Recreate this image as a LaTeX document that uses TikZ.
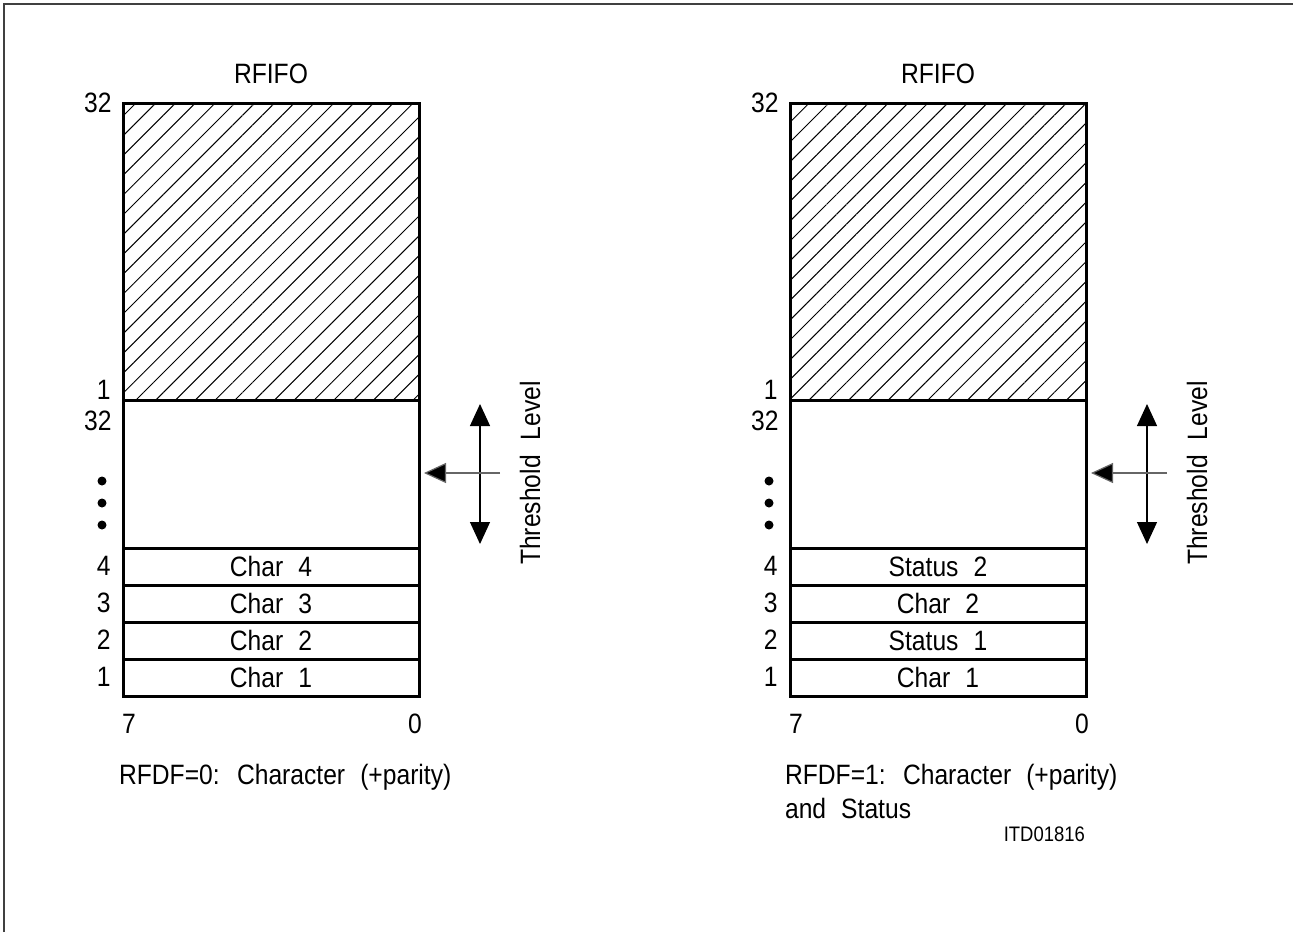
\documentclass[tikz,border=0pt]{standalone}
\usepackage{fontspec}
\setmainfont{Liberation Sans}[FakeStretch=0.88, WordSpace=2.2]
\usetikzlibrary{arrows.meta, patterns.meta, positioning}

\begin{document}
\begin{tikzpicture}[x=0.5pt, y=-0.5pt, font=\fontsize{14}{17}\selectfont]
\tikzset{
    frameline/.style={draw=black!75, line width=1.2pt},
    hatchbox/.style={draw, line width=1.5pt, minimum width=148pt, minimum height=148.5pt, inner sep=0pt, pattern={Lines[angle=45, distance=7pt, line width=0.5pt]}},
    emptybox/.style={draw, line width=1.5pt, minimum width=148pt, minimum height=74pt, inner sep=0pt},
    cell/.style={draw, line width=1.5pt, minimum width=148pt, minimum height=18.5pt, inner sep=0pt},
    idx/.style={anchor=east, inner sep=0pt},
    dot/.style={circle, fill, inner sep=0pt, minimum size=4.5pt},
    levelarrow/.style={line width=0.6pt, {Triangle[width=10pt, length=11pt]}-{Triangle[width=10pt, length=11pt]}},
    pointer/.style={draw=black!60, line width=0.6pt, -{Triangle[width=10pt, length=11pt, fill=black]}}
}
\useasboundingbox (0,0) rectangle (1293,932);
\draw[frameline] (4,932) -- (4,4) -- (1293,4);

% left fifo
\node (Ltitle) at (271,74) {RFIFO};
\node[hatchbox] (Lfull) at (271,251.5) {};
\node[emptybox] (Lfree) at (271,474) {};
\node[cell] (L4) at (271,566.5) {Char 4};
\node[cell] (L3) at (271,603.5) {Char 3};
\node[cell] (L2) at (271,640.5) {Char 2};
\node[cell] (L1) at (271,677.5) {Char 1};
\node[idx] (Ltop) at (112,103) {32}; \node[idx] (Lone) at (111,390) {1}; \node[idx] (Lmax) at (112,421) {32};
\node[dot] (Ld1) at (102,481) {}; \node[dot] (Ld2) at (102,503) {}; \node[dot] (Ld3) at (102,525) {};
\node[idx] (Li4) at (111,566) {4}; \node[idx] (Li3) at (111,603) {3}; \node[idx] (Li2) at (111,640) {2}; \node[idx] (Li1) at (111,677) {1};
\node (Lbit7) at (129,724) {7}; \node (Lbit0) at (415,724) {0};
\node[anchor=west] (Lnote) at (112,777) {RFDF=0: Character (+parity)};
\coordinate (Lup) at (480,404); \coordinate (Ldown) at (480,544);
\coordinate (Lfrom) at (500,473); \coordinate (Lto) at (424,473);
\draw[levelarrow] (Lup) -- (Ldown);
\draw[pointer] (Lfrom) -- (Lto);
\node[rotate=90] (Lthr) at (530,473) {Threshold Level};

% right fifo
\node (Rtitle) at (938,74) {RFIFO};
\node[hatchbox] (Rfull) at (938,251.5) {};
\node[emptybox] (Rfree) at (938,474) {};
\node[cell] (R4) at (938,566.5) {Status 2};
\node[cell] (R3) at (938,603.5) {Char 2};
\node[cell] (R2) at (938,640.5) {Status 1};
\node[cell] (R1) at (938,677.5) {Char 1};
\node[idx] (Rtop) at (779,103) {32}; \node[idx] (Rone) at (778,390) {1}; \node[idx] (Rmax) at (779,421) {32};
\node[dot] (Rd1) at (769,481) {}; \node[dot] (Rd2) at (769,503) {}; \node[dot] (Rd3) at (769,525) {};
\node[idx] (Ri4) at (778,566) {4}; \node[idx] (Ri3) at (778,603) {3}; \node[idx] (Ri2) at (778,640) {2}; \node[idx] (Ri1) at (778,677) {1};
\node (Rbit7) at (796,724) {7}; \node (Rbit0) at (1082,724) {0};
\node[anchor=west, align=left] (Rnote) at (778,791) {RFDF=1: Character (+parity)\\and Status};
\node[anchor=east, font=\fontsize{10.5}{12}\selectfont] (code) at (1092,834) {ITD01816};
\coordinate (Rup) at (1147,404); \coordinate (Rdown) at (1147,544);
\coordinate (Rfrom) at (1167,473); \coordinate (Rto) at (1091,473);
\draw[levelarrow] (Rup) -- (Rdown);
\draw[pointer] (Rfrom) -- (Rto);
\node[rotate=90] (Rthr) at (1197,473) {Threshold Level};
\end{tikzpicture}
\end{document}
